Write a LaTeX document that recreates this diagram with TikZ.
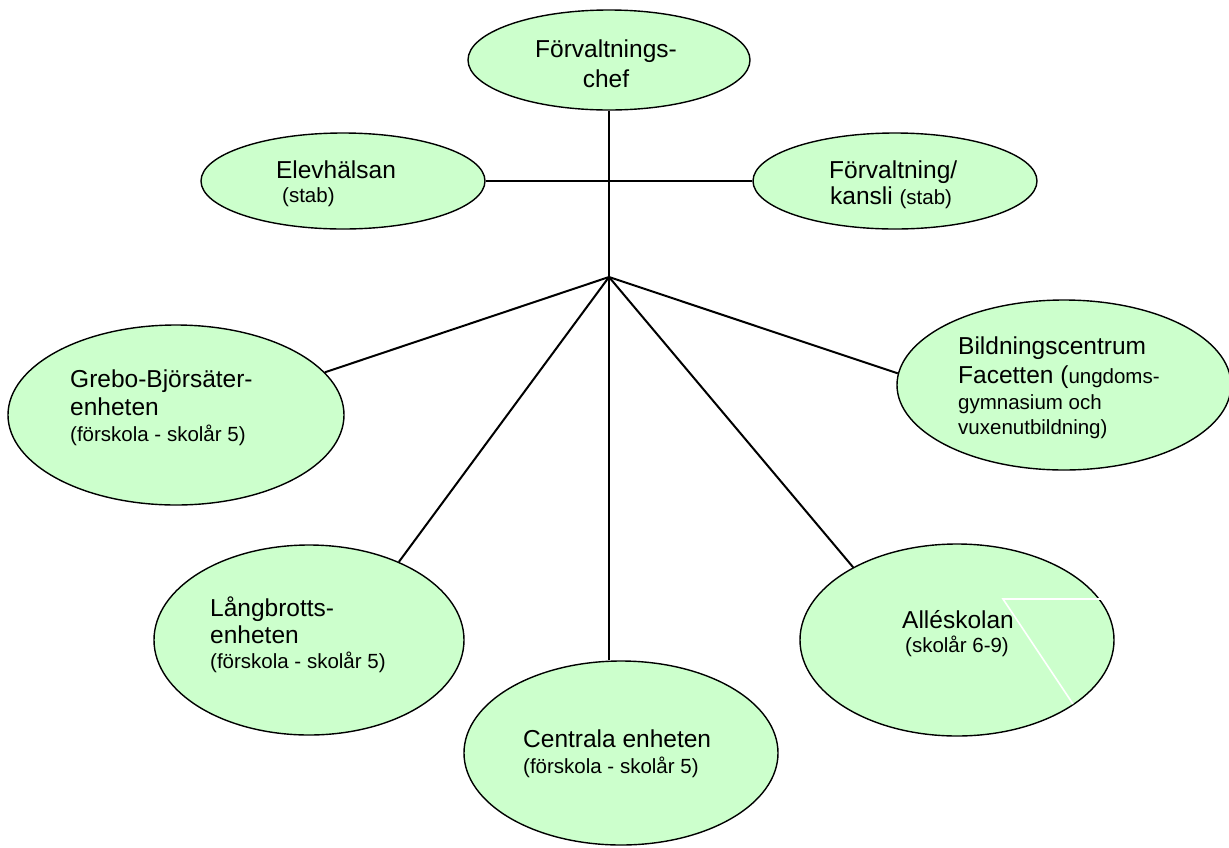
\documentclass[tikz,border=0pt]{standalone}
\usepackage{fontspec}
\setmainfont{Liberation Sans}
\usetikzlibrary{shapes.geometric}
\definecolor{boxgreen}{HTML}{CCFFCC}
\newcommand\bigtxt{\fontsize{24.5}{29}\selectfont}
\newcommand\smalltxt{\fontsize{20.5}{24}\selectfont}
\begin{document}
\begin{tikzpicture}[x=1pt,y=-1pt,
  unit/.style={ellipse, draw=black, line width=1.4pt, fill=boxgreen, inner sep=0pt},
  big/.style={font=\bigtxt, inner sep=0pt},
  small/.style={font=\smalltxt, inner sep=0pt},
  link/.style={line width=1.4pt},
  spoke/.style={line width=2pt},
  gap/.style={draw=white, line width=1.6pt}
]
\path[use as bounding box] (0,0) rectangle (1229,847);
% units
\node[unit, minimum width=282pt, minimum height=100pt] (chef) at (609,60) {};
\node[unit, minimum width=284pt, minimum height=96pt] (elev) at (343,181) {};
\node[unit, minimum width=284pt, minimum height=96pt] (forv) at (895,181) {};
\node[unit, minimum width=336pt, minimum height=180pt] (grebo) at (176,415) {};
\node[unit, minimum width=334pt, minimum height=170pt] (bild) at (1064,385) {};
\node[unit, minimum width=310pt, minimum height=190pt] (lang) at (309,640) {};
\node[unit, minimum width=314pt, minimum height=184pt] (cent) at (621,753) {};
\node[unit, minimum width=314pt, minimum height=192pt] (alle) at (957,640) {};
% connectors
\coordinate (hub) at (609,277);
\draw[link] (chef.south) -- (hub);
\draw[link] (elev.east) -- (forv.west);
\draw[spoke] (hub) -- (grebo.16);
\draw[spoke] (hub) -- (bild.176);
\draw[spoke] (hub) -- (lang.41);
\draw[spoke] (hub) -- (hub |- cent.north);
\draw[spoke] (hub) -- (alle.145);
% white marks in Alleskolan
\coordinate (w0) at (1003,599);
\coordinate (w1) at (1103,599);
\coordinate (w2) at (1073,704);
\draw[gap] (w1) -- (w0) -- (w2);
% texts
\node[big, anchor=base] (chef-t1) at (606,57) {Förvaltnings-};
\node[big, anchor=base] (chef-t2) at (606,87) {chef};
\node[big, anchor=base] (elev-t1) at (336,178) {Elevhälsan};
\node[small, anchor=base west] (elev-t2) at (282,202) {(stab)};
\node[big, anchor=base west] (forv-t1) at (829,178) {Förvaltning/};
\node[big, anchor=base west] (forv-t2) at (830,204) {kansli {\smalltxt (stab)}};
\node[big, anchor=base west] (grebo-t1) at (70,387) {Grebo-Björsäter-};
\node[big, anchor=base west] (grebo-t2) at (70,415) {enheten};
\node[small, anchor=base west] (grebo-t3) at (70,441) {(förskola - skolår 5)};
\node[big, anchor=base west] (bild-t1) at (958,354) {Bildningscentrum};
\node[big, anchor=base west] (bild-t2) at (958,383) {Facetten ({\smalltxt ungdoms-}};
\node[small, anchor=base west] (bild-t3) at (958,409) {gymnasium och};
\node[small, anchor=base west] (bild-t4) at (958,434) {vuxenutbildning)};
\node[big, anchor=base west] (lang-t1) at (210,616) {Långbrotts-};
\node[big, anchor=base west] (lang-t2) at (210,643) {enheten};
\node[small, anchor=base west] (lang-t3) at (210,668) {(förskola - skolår 5)};
\node[big, anchor=base west] (cent-t1) at (523,747) {Centrala enheten};
\node[small, anchor=base west] (cent-t2) at (523,773) {(förskola - skolår 5)};
\node[big, anchor=base] (alle-t1) at (958,628) {Alléskolan};
\node[small, anchor=base] (alle-t2) at (957,652) {(skolår 6-9)};
\end{tikzpicture}
\end{document}
